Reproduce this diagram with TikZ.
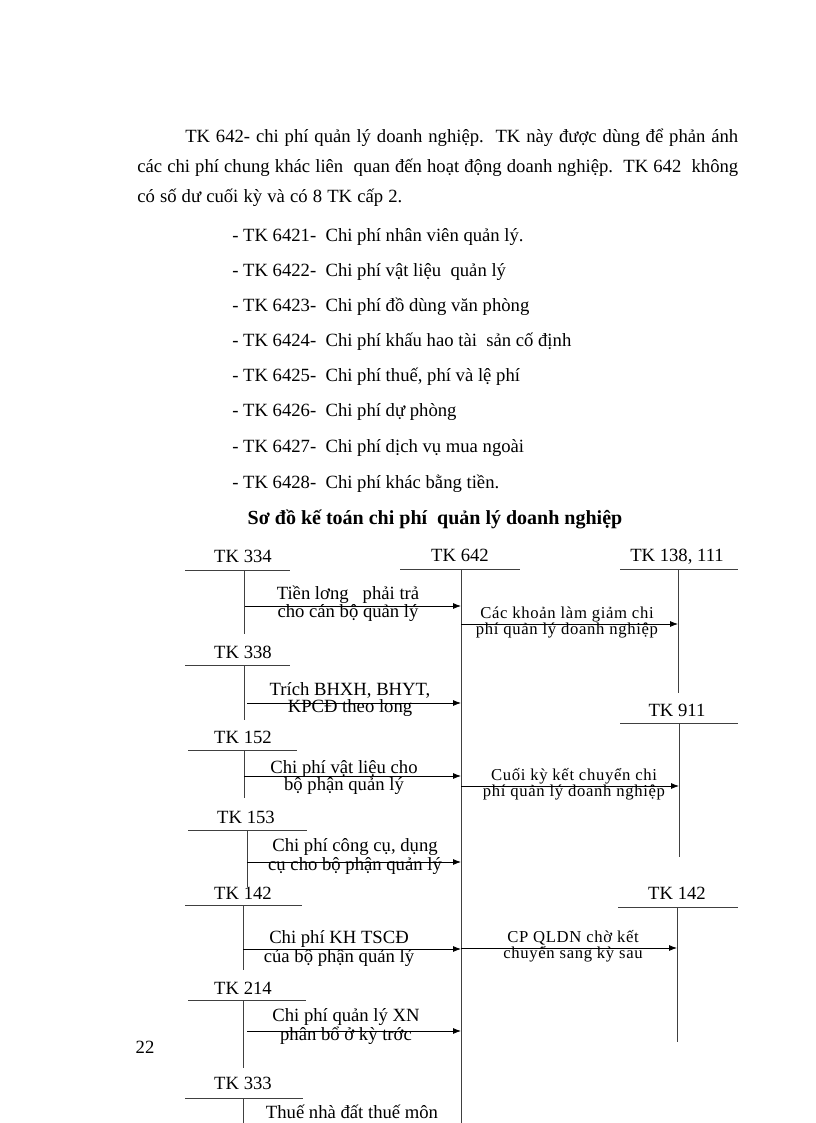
\documentclass[tikz,border=0pt]{standalone}
\usepackage{fontspec}
\setmainfont{Liberation Serif}
\newfontfamily\spacedfont[LetterSpace=4]{Liberation Serif}
\usetikzlibrary{arrows.meta}

\tikzset{
	body/.style={inner sep=0pt, anchor=base west, font=\fontsize{14}{22}\selectfont},
	acct/.style={inner sep=0pt, anchor=base, font=\fontsize{14}{16}\selectfont},
	lbl/.style={inner sep=0pt, align=center, font=\fontsize{14}{12.75}\selectfont},
	rlbl/.style={inner sep=0pt, align=center, font=\spacedfont\fontsize{12.5}{12}\selectfont},
	tline/.style={line width=0.75pt, black!75},
	flow/.style={line width=0.6pt, black, -{Latex[length=6pt,width=4.5pt]}}
}

\begin{document}
\begin{tikzpicture}[x=0.75pt, y=-0.75pt]
	\useasboundingbox (0,0) rectangle (816,1123);

	\node[body] (Para1) at (185,143) {\makebox[414.75pt][s]{TK 642- chi phí quản lý\ doanh nghiệp.\ \ TK này được dùng để phản ánh}};
	\node[body] (Para2) at (137,173) {\makebox[450.75pt][s]{các chi phí chung khác liên\ \ quan đến hoạt động doanh nghiệp.\ \ TK 642\ \ không}};
	\node[body] (Para3) at (137,203) {\makebox[198.75pt][s]{có số dư cuối kỳ và có 8 TK cấp 2.}};

	\node[body] (Item1) at (232,241) {- TK 6421-\ \ Chi phí nhân viên\ quản lý.};
	\node[body] (Item2) at (232,276) {- TK 6422-\ \ Chi phí vật liệu\ \ quản lý};
	\node[body] (Item3) at (232,311) {- TK 6423-\ \ Chi phí đồ dùng văn phòng};
	\node[body] (Item4) at (232,346) {- TK 6424-\ \ Chi phí khấu hao tài\ \ sản cố định};
	\node[body] (Item5) at (232,381) {- TK 6425-\ \ Chi phí thuế, phí và lệ phí};
	\node[body] (Item6) at (232,416) {- TK 6426-\ \ Chi phí dự phòng};
	\node[body] (Item7) at (232,452) {- TK 6427-\ \ Chi phí dịch vụ mua ngoài};
	\node[body] (Item8) at (232,488) {- TK 6428-\ \ Chi phí khác bằng tiền.};

	\node[body, anchor=base, font=\fontsize{15}{22}\selectfont\bfseries] (Title) at (435,524) {Sơ đồ kế toán chi phí\ \ quản lý doanh nghiệp};

	% TK 642
	\node[acct] (Tk642) at (460,561) {TK 642};
	\draw[tline] (400,569) -- (520,569);
	\draw[tline] (461,569) -- (461,1123);

	% left side accounts
	\node[acct] (Tk334) at (243,562) {TK 334};
	\draw[tline] (185,570) -- (290,570);
	\draw[tline] (244,570) -- (244,634);

	\node[acct] (Tk338) at (243,658) {TK 338};
	\draw[tline] (185,665) -- (290,665);
	\draw[tline] (244,665) -- (244,720);

	\node[acct] (Tk152) at (243,743) {TK 152};
	\draw[tline] (188,750) -- (297,750);
	\draw[tline] (244,750) -- (244,798);

	\node[acct] (Tk153) at (246,823) {TK 153};
	\draw[tline] (188,830) -- (307,830);
	\draw[tline] (247,830) -- (247,887);

	\node[acct] (Tk142L) at (243,899) {TK 142};
	\draw[tline] (185,905) -- (302,905);
	\draw[tline] (243,905) -- (243,970);

	\node[acct] (Tk214) at (243,994) {TK 214};
	\draw[tline] (188,1000) -- (306,1000);
	\draw[tline] (243,1000) -- (243,1068);

	\node[acct] (Tk333) at (243,1089) {TK 333};
	\draw[tline] (185,1098) -- (303,1098);
	\draw[tline] (243,1098) -- (243,1123);

	% right side accounts
	\node[acct] (Tk138) at (677,561) {TK 138, 111};
	\draw[tline] (620,569) -- (738,569);
	\draw[tline] (678,569) -- (678,693);

	\node[acct] (Tk911) at (677,716) {TK 911};
	\draw[tline] (620,723) -- (738,723);
	\draw[tline] (679,723) -- (679,857);

	\node[acct] (Tk142R) at (677,899) {TK 142};
	\draw[tline] (618,907) -- (738,907);
	\draw[tline] (677,907) -- (677,1042);

	% flows into TK 642
	\coordinate (In1) at (245,606);
	\coordinate (Mid1) at (461,606);
	\draw[flow] (In1) -- (Mid1);
	\node[lbl] (Lbl1) at (348,603.5) {Tiền lơng\ \ \ phải trả\\cho cán bộ quản\ lý};

	\coordinate (In2) at (247,703);
	\coordinate (Mid2) at (461,703);
	\draw[flow] (In2) -- (Mid2);
	\node[lbl] (Lbl2) at (350,700) {Trích BHXH,\ BHYT,\\KPCĐ theo\ long};

	\coordinate (In3) at (244,776);
	\coordinate (Mid3) at (461,776);
	\draw[flow] (In3) -- (Mid3);
	\node[lbl] (Lbl3) at (344,777.5) {Chi phí vật liệu cho\\bộ phận quản\ lý};

	\coordinate (In4) at (247,862);
	\coordinate (Mid4) at (461,862);
	\draw[flow] (In4) -- (Mid4);
	\node[lbl] (Lbl4) at (355,856.5) {Chi phí công cụ,\ dụng\\cụ cho bộ phận quản lý};

	\coordinate (In5) at (243,949);
	\coordinate (Mid5) at (461,949);
	\draw[flow] (In5) -- (Mid5);
	\node[lbl, font=\fontsize{14}{14.25}\selectfont] (Lbl5) at (339,949) {Chi phí KH TSCĐ\\của bộ phận quản\ lý};

	\coordinate (In6) at (247,1031);
	\coordinate (Mid6) at (461,1031);
	\draw[flow] (In6) -- (Mid6);
	\node[lbl] (Lbl6) at (346,1026.5) {Chi phí quản\ lý XN\\phân bổ ở kỳ trớc};

	\node[lbl] (Lbl7) at (352,1112) {Thuế nhà đất thuế môn};

	% flows out of TK 642
	\coordinate (Out1) at (461,624);
	\coordinate (End1) at (678,624);
	\draw[flow] (Out1) -- (End1);
	\node[rlbl] (RLbl1) at (567,622) {Các khoản làm giảm chi\\phí quản lý doanh nghiệp};

	\coordinate (Out2) at (461,786);
	\coordinate (End2) at (679,786);
	\draw[flow] (Out2) -- (End2);
	\node[rlbl] (RLbl2) at (574,784.5) {Cuối kỳ kết chuyển chi\\phí quản lý doanh nghiệp};

	\coordinate (Out3) at (461,948);
	\coordinate (End3) at (677,948);
	\draw[flow] (Out3) -- (End3);
	\node[rlbl] (RLbl3) at (573,946) {CP QLDN chờ kết\\chuyển sang kỳ sau};

	\node[acct, anchor=center] (PageNo) at (145,1047) {22};
\end{tikzpicture}
\end{document}
